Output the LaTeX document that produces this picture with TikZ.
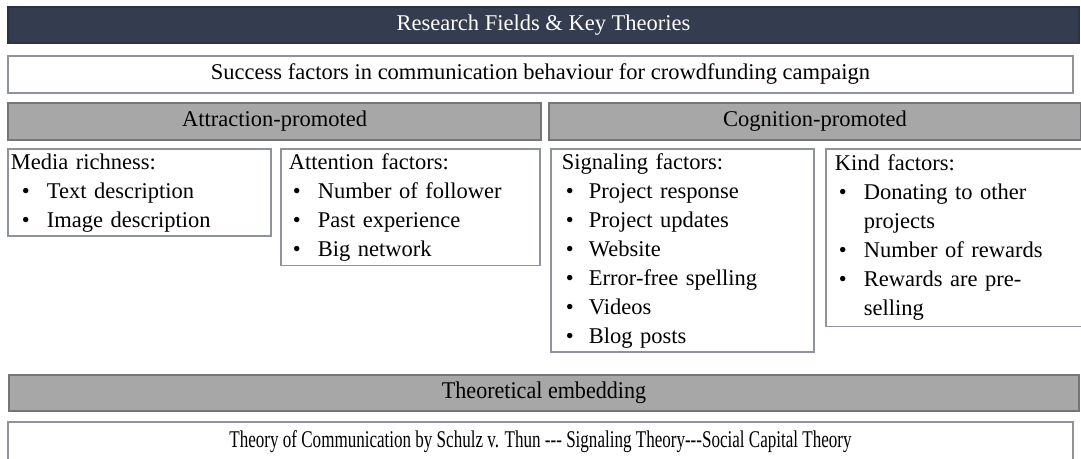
\documentclass[tikz,border=0pt]{standalone}
\usepackage{fontspec}
\setmainfont{Liberation Serif}
\usepackage{xcolor}
\usepackage{tikz}

\definecolor{headnavy}{RGB}{52,61,80}
\definecolor{bargray}{RGB}{168,167,168}
\definecolor{barline}{RGB}{118,118,120}
\definecolor{boxline}{RGB}{142,147,156}

% bullet item and continuation line inside the factor boxes
\newlength{\bulind}\setlength{\bulind}{4bp}
\newlength{\txtind}\setlength{\txtind}{29bp}
\newcommand{\itm}[1]{\strut\makebox[\txtind][l]{\hspace{\bulind}\textbullet}#1}
\newcommand{\cnt}[1]{\strut\hspace*{\txtind}#1}

\begin{document}
\begin{tikzpicture}[x=1bp, y=1bp,
    every node/.style={font=\fontsize{22.5bp}{29bp}\selectfont, inner sep=0pt, outer sep=0pt},
    headbar/.style={fill=headnavy, draw=headnavy!85!black, line width=1.5bp, text=white, anchor=north west},
    whitebar/.style={fill=white, draw=boxline, line width=1.8bp, anchor=north west},
    graybar/.style={fill=bargray, draw=barline, line width=1.8bp, anchor=north west},
    listbox/.style={fill=white, draw=boxline, line width=1.5bp, align=left, anchor=north west},
    narrow/.style={font=\fontsize{24bp}{29bp}\selectfont}]

    \useasboundingbox (0,0) rectangle (1081,-459);

    % =================================================================
    % HEADER ROWS
    % =================================================================
    \node[headbar, minimum width=1075, minimum height=36] (head) at (8,-7)
        {Research Fields \& Key Theories};
    \node[whitebar, minimum width=1069, minimum height=37] (topic) at (8,-56)
        {Success factors in communication behaviour for crowdfunding campaign};

    % two promotion groups
    \foreach \name/\x/\w/\txt in {attract/8/535/Attraction-promoted, cognit/549/534/Cognition-promoted} {
        \node[graybar, minimum width=\w, minimum height=37] (\name) at (\x,-103) {\txt};
    }

    % =================================================================
    % FACTOR BOXES
    % =================================================================
    \node[listbox, text width=258, inner xsep=3, minimum height=87] (media) at (8,-149)
        {\setlength{\bulind}{11bp}\setlength{\txtind}{36bp}%
         \strut Media richness:\\
         \itm{Text description}\\
         \itm{Image description}};

    \node[listbox, text width=244, inner xsep=8, minimum height=117] (attent) at (281,-149)
        {\strut Attention factors:\\
         \itm{Number of follower}\\
         \itm{Past experience}\\
         \itm{Big network}};

    \node[listbox, text width=242, inner xsep=11, minimum height=201] (signal) at (551,-149)
        {\setlength{\txtind}{27bp}%
         \strut Signaling factors:\\
         \itm{Project response}\\
         \itm{Project updates}\\
         \itm{Website}\\
         \itm{Error-free spelling}\\
         \itm{Videos}\\
         \itm{Blog posts}};

    \node[listbox, text width=239, inner xsep=9, minimum height=178] (kind) at (826,-149)
        {\strut Kind factors:\\
         \itm{Donating to other}\\
         \cnt{projects}\\
         \itm{Number of rewards}\\
         \itm{Rewards are pre-}\\
         \cnt{selling}};

    % =================================================================
    % THEORETICAL EMBEDDING
    % =================================================================
    \node[graybar, minimum width=1074, minimum height=36] (embed) at (9,-375)
        {\scalebox{0.92}[1]{\fontsize{24bp}{29bp}\selectfont Theoretical embedding}};
    \node[whitebar, minimum width=1069, minimum height=40] (theory) at (8,-422)
        {\raisebox{1.5bp}{\scalebox{0.71}[1]{\fontsize{24bp}{29bp}\selectfont Theory of Communication by Schulz v. Thun -{}-{}- Signaling Theory-{}-{}-Social Capital Theory}}};

\end{tikzpicture}
\end{document}
